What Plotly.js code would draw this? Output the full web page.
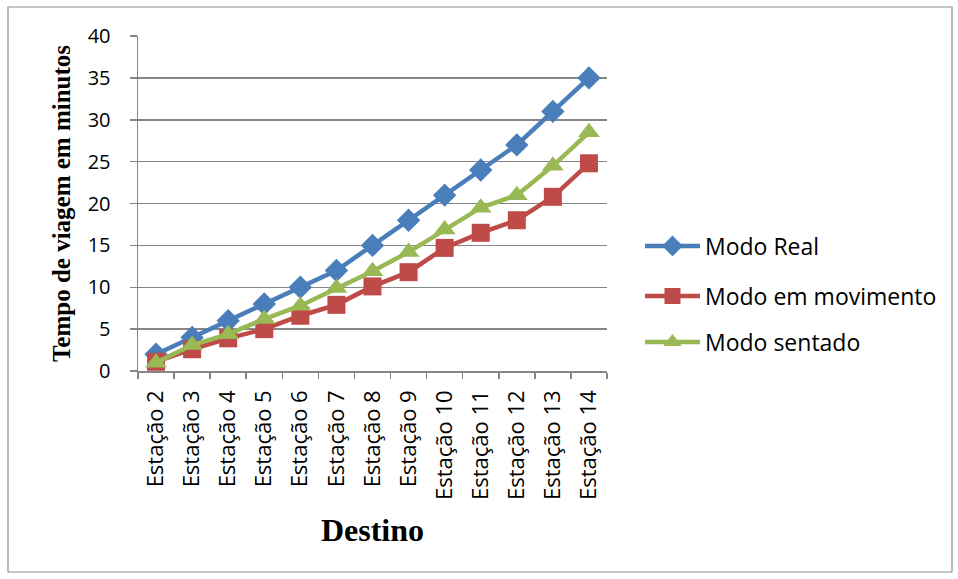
<!DOCTYPE html>
<html>
<head>
<meta charset="utf-8">
<script src="https://cdn.plot.ly/plotly-3.0.1.min.js"></script>
<style>html,body{margin:0;padding:0;background:#fff;}#chart{width:958px;height:579px;}</style>
</head>
<body>
<div id="chart"></div>
<script>
const categories = ["Estação 2","Estação 3","Estação 4","Estação 5","Estação 6","Estação 7","Estação 8","Estação 9","Estação 10","Estação 11","Estação 12","Estação 13","Estação 14"];
const modoReal = [2, 4, 6, 8, 10, 12, 15, 18, 21, 24, 27, 31, 35];
const modoMovimento = [1.1, 2.6, 3.9, 5.0, 6.6, 7.9, 10.1, 11.8, 14.7, 16.5, 18.0, 20.8, 24.8];
const modoSentado = [1.0, 3.1, 4.4, 6.2, 7.8, 9.9, 11.9, 14.2, 16.9, 19.5, 21.0, 24.5, 28.5];
const seriesNames = ["Modo Real", "Modo em movimento", "Modo sentado"];
const yTicks = [0, 5, 10, 15, 20, 25, 30, 35, 40];

const colors = ["#4A7EBB", "#BE4B48", "#98B954"];
const symbols = ["diamond", "square", "triangle-up"];
const sizes = [18, 18, 19];
const allSeries = [modoReal, modoMovimento, modoSentado];
const legendKeys = ["legend", "legend2", "legend3"];

const traces = allSeries.map((vals, i) => ({
  type: "scatter",
  mode: "lines+markers",
  x: categories,
  y: vals,
  name: seriesNames[i],
  legend: legendKeys[i],
  line: {color: colors[i], width: 4.5},
  marker: {symbol: symbols[i], size: sizes[i], color: colors[i], line: {width: 0}},
  cliponaxis: false
}));

const legFont = {family: "Open Sans, sans-serif", size: 23, color: "#000"};
const legYs = [246, 296, 342];
const L = 138, R = 351, T = 36, B = 208, H = 579, W = 958;
const plotH = H - T - B, plotW = W - L - R;
function legendAt(py) {
  return {
    x: (640 - L) / plotW, xanchor: "left",
    y: (H - B - py) / plotH, yanchor: "middle",
    font: legFont, itemwidth: 55, bgcolor: "rgba(0,0,0,0)", borderwidth: 0
  };
}

const layout = {
  width: W, height: H,
  margin: {l: L, r: R, t: T, b: B, pad: 0},
  paper_bgcolor: "#fff", plot_bgcolor: "#fff",
  showlegend: true,
  legend: legendAt(legYs[0]),
  legend2: legendAt(legYs[1]),
  legend3: legendAt(legYs[2]),
  font: {family: "Open Sans, sans-serif", color: "#000"},
  xaxis: {
    type: "category",
    range: [-0.5, categories.length - 0.5],
    showgrid: false,
    showline: true, linecolor: "#868686", linewidth: 1.5,
    ticks: "outside", tickson: "boundaries", ticklen: 6, tickcolor: "#868686", tickwidth: 1.5,
    tickangle: -90,
    tickfont: {family: "Open Sans, sans-serif", size: 22, color: "#000"},
    ticklabelstandoff: 9,
    title: {text: "Destino", font: {family: "Liberation Serif, Times New Roman, serif", size: 32, color: "#000", weight: "bold"}, standoff: 19},
    fixedrange: true
  },
  yaxis: {
    range: [0, 40],
    tickvals: yTicks,
    ticktext: yTicks.map(String),
    showgrid: true, gridcolor: "#868686", gridwidth: 1.5,
    zeroline: false,
    showline: true, linecolor: "#868686", linewidth: 1.5,
    ticks: "outside", ticklen: 7, tickcolor: "#868686", tickwidth: 1.5,
    tickfont: {family: "Open Sans, sans-serif", size: 20, color: "#000"},
    ticklabelstandoff: 15,
    title: {text: "Tempo de viagem em minutos", font: {family: "Liberation Serif, Times New Roman, serif", size: 25, color: "#000", weight: "bold"}, standoff: 10},
    fixedrange: true
  },
  shapes: [{
    type: "rect", xref: "paper", yref: "paper",
    x0: (8 - L) / plotW, x1: (952 - L) / plotW,
    y0: (H - B - 572) / plotH, y1: (H - B - 7) / plotH,
    line: {color: "#8c8c8c", width: 1.2}, fillcolor: "rgba(0,0,0,0)", layer: "below"
  }]
};

Plotly.newPlot("chart", traces, layout, {displayModeBar: false, staticPlot: true});
</script>
</body>
</html>
